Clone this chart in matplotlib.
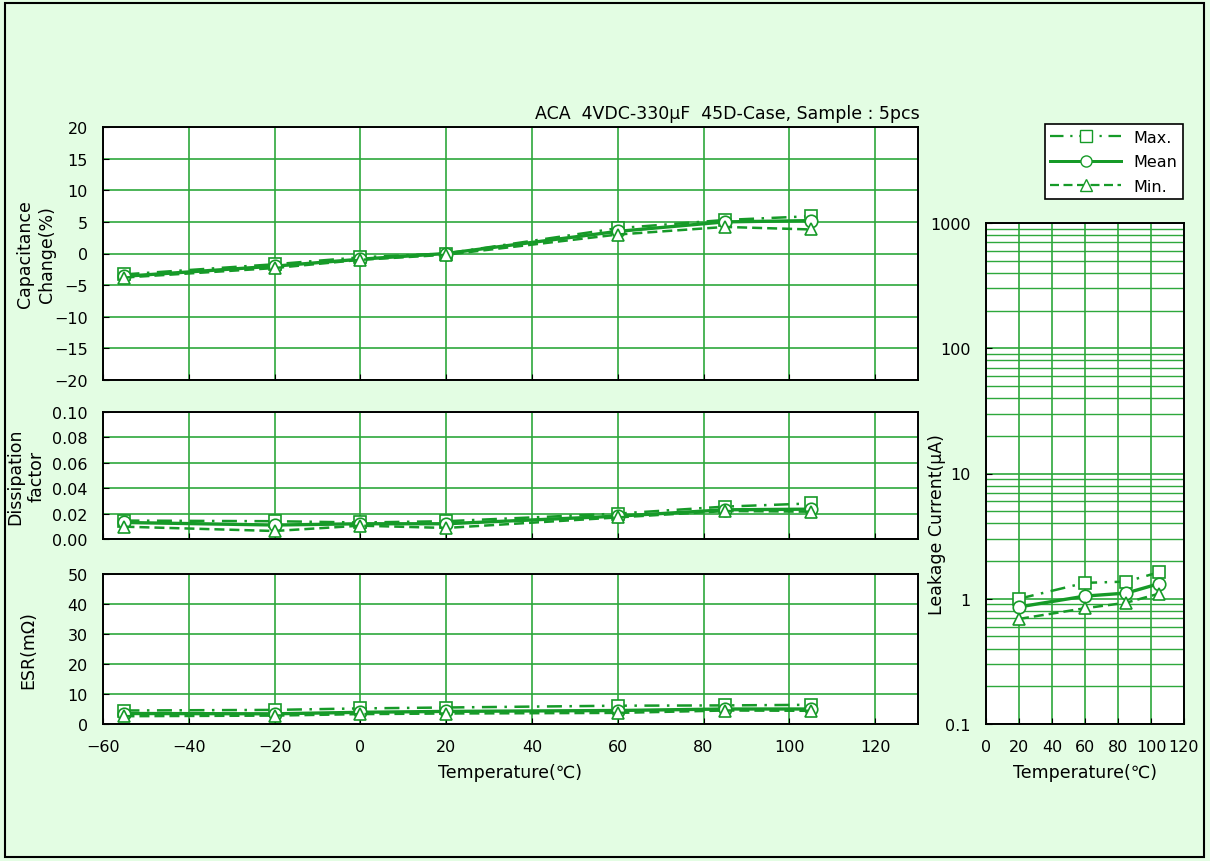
import matplotlib
matplotlib.use("Agg")
import matplotlib.pyplot as plt
from matplotlib.lines import Line2D
from matplotlib.patches import Rectangle
from matplotlib.ticker import FixedLocator, LogLocator, NullFormatter

plt.rcParams['font.family'] = ['DejaVu Sans', 'Noto Sans CJK JP']

# data
temps = [-55, -20, 0, 20, 60, 85, 105]
cap_max = [-3.3, -1.7, -0.6, 0.0, 4.0, 5.3, 5.9]
cap_mean = [-3.6, -2.0, -0.9, 0.0, 3.5, 5.0, 5.2]
cap_min = [-3.8, -2.3, -1.0, -0.2, 3.0, 4.2, 3.8]

df_max = [0.0145, 0.0140, 0.0130, 0.0140, 0.0200, 0.0255, 0.0280]
df_mean = [0.0130, 0.0110, 0.0120, 0.0120, 0.0180, 0.0230, 0.0235]
df_min = [0.0097, 0.0063, 0.0105, 0.0087, 0.0170, 0.0220, 0.0215]

esr_max = [4.5, 4.7, 5.2, 5.5, 6.1, 6.2, 6.4]
esr_mean = [3.5, 3.4, 3.9, 4.2, 4.5, 5.0, 5.0]
esr_min = [2.6, 2.8, 3.3, 3.5, 3.7, 4.5, 4.4]

lc_temps = [20, 60, 85, 105]
lc_max = [1.00, 1.34, 1.37, 1.63]
lc_mean = [0.86, 1.05, 1.11, 1.32]
lc_min = [0.69, 0.84, 0.93, 1.10]

W, H = 1210, 862
BG = '#e3fde3'
LINE = '#169a28'
GRID = '#2ea83c'
FS = 11.5
LFS = 12.5

fig = plt.figure(figsize=(W / 100, H / 100), dpi=100, facecolor=BG)
fig.patches.append(Rectangle((5 / W, 4 / H), 1199 / W, 854 / H, transform=fig.transFigure,
                             fill=False, edgecolor='black', linewidth=1.5))


def box(l, t, r, b):
    return [l / W, 1 - b / H, (r - l) / W, (b - t) / H]


styles = [
    dict(ls=(0, (6, 3, 1, 3)), marker='s', lw=1.8),
    dict(ls='-', marker='o', lw=2.4),
    dict(ls=(0, (4, 2)), marker='^', lw=1.8),
]


def draw(ax, x, series):
    for y, st in zip(series, styles):
        ax.plot(x, y, color=LINE, linestyle=st['ls'], linewidth=st['lw'], marker=st['marker'],
                markersize=9, markerfacecolor='white', markeredgecolor=LINE, markeredgewidth=1.2,
                zorder=3)


def style(ax):
    ax.set_facecolor('white')
    ax.grid(True, color=GRID, linewidth=1.2)
    ax.set_axisbelow(True)
    for s in ax.spines.values():
        s.set_linewidth(1.4)
        s.set_color('black')
    ax.tick_params(direction='in', length=4, labelsize=FS, colors='black')
    ax.tick_params(axis='y', pad=11)
    ax.tick_params(axis='x', pad=11)


def minus(vals):
    return ['\u2212' + str(-v) if v < 0 else str(v) for v in vals]


ax1 = fig.add_axes(box(103, 128, 918, 381))
ax2 = fig.add_axes(box(103, 413, 918, 540))
ax3 = fig.add_axes(box(103, 575, 918, 725))
ax4 = fig.add_axes(box(986, 224, 1184, 725))

xticks = list(range(-60, 121, 20))
for ax in (ax1, ax2, ax3):
    style(ax)
    ax.set_xlim(-60, 130)
    ax.set_xticks(xticks)
    ax.set_xticklabels(minus(xticks))

draw(ax1, temps, [cap_max, cap_mean, cap_min])
ax1.set_ylim(-20, 20)
ax1.set_yticks(range(-20, 21, 5))
ax1.set_yticklabels(minus(range(-20, 21, 5)))
ax1.tick_params(labelbottom=False)
ax1.set_ylabel('Capacitance\nChange(%)', fontsize=LFS, linespacing=1.3)
ax1.yaxis.set_label_coords(-47 / 815, 0.5)

draw(ax2, temps, [df_max, df_mean, df_min])
ax2.set_ylim(0, 0.10)
ax2.set_yticks([0, 0.02, 0.04, 0.06, 0.08, 0.10])
ax2.set_yticklabels(['0.00', '0.02', '0.04', '0.06', '0.08', '0.10'])
ax2.tick_params(labelbottom=False)
ax2.set_ylabel('Dissipation\nfactor', fontsize=LFS, linespacing=1.3)
ax2.yaxis.set_label_coords(-57 / 815, 0.5)

draw(ax3, temps, [esr_max, esr_mean, esr_min])
ax3.set_ylim(0, 50)
ax3.set_yticks(range(0, 51, 10))
ax3.set_ylabel('ESR(m\u03a9)', fontsize=LFS)
ax3.yaxis.set_label_coords(-66 / 815, 0.5)
ax3.set_xlabel('Temperature(\u2103)', fontsize=LFS, labelpad=6)

style(ax4)
draw(ax4, lc_temps, [lc_max, lc_mean, lc_min])
ax4.set_yscale('log')
ax4.set_ylim(0.1, 1000)
ax4.set_xlim(0, 120)
ax4.set_xticks(range(0, 121, 20))
ax4.yaxis.set_major_locator(FixedLocator([0.1, 1, 10, 100, 1000]))
ax4.set_yticklabels(['0.1', '1', '10', '100', '1000'])
ax4.yaxis.set_minor_locator(LogLocator(base=10, subs=range(2, 10)))
ax4.yaxis.set_minor_formatter(NullFormatter())
ax4.tick_params(which='minor', length=0)
ax4.grid(True, which='minor', axis='y', color=GRID, linewidth=1.0)
ax4.set_xlabel('Temperature(\u2103)', fontsize=LFS, labelpad=6)
ax4.set_ylabel('Leakage Current(\u03bcA)', fontsize=LFS)
ax4.yaxis.set_label_coords(-40 / 198, 0.4)

fig.text(920 / W, 1 - 114 / H, 'ACA  4VDC-330\u03bcF  45D-Case, Sample : 5pcs',
         ha='right', va='center', fontsize=LFS)

handles = [Line2D([], [], color=LINE, linestyle=st['ls'], linewidth=st['lw'] * 0.9, marker=st['marker'],
                  markersize=8, markerfacecolor='white', markeredgecolor=LINE)
           for st in styles]
leg = fig.legend(handles, ['Max.', 'Mean', 'Min.'], loc='upper right',
                 bbox_to_anchor=(1183 / W, 1 - 125 / H), fontsize=FS, frameon=True,
                 fancybox=False, edgecolor='black', facecolor='white', framealpha=1,
                 handlelength=4.4, borderpad=0.35, labelspacing=0.6, borderaxespad=0,
                 handletextpad=0.8)
leg.get_frame().set_linewidth(1.2)

fig.savefig('out.png', dpi=100, facecolor=BG)
